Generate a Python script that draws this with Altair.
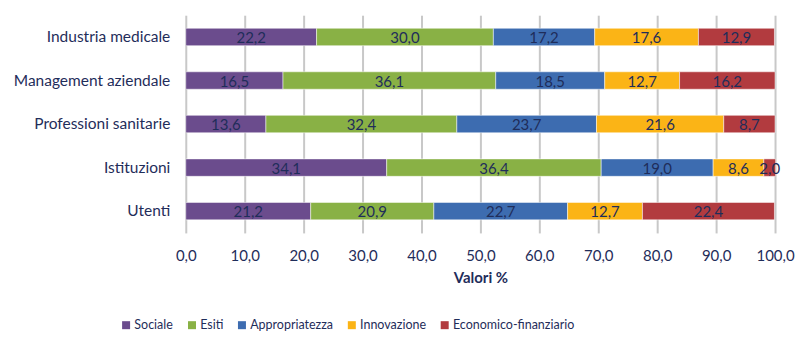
import altair as alt
import pandas as pd

categories = ["Industria medicale", "Management aziendale", "Professioni sanitarie", "Istituzioni", "Utenti"]
series = ["Sociale", "Esiti", "Appropriatezza", "Innovazione", "Economico-finanziario"]
colors = ["#6B4C8D", "#89B145", "#3D6CB0", "#FBB416", "#B23B3F"]

sociale = [22.2, 16.5, 13.6, 34.1, 21.2]
esiti = [30.0, 36.1, 32.4, 36.4, 20.9]
appropriatezza = [17.2, 18.5, 23.7, 19.0, 22.7]
innovazione = [17.6, 12.7, 21.6, 8.6, 12.7]
economico = [12.9, 16.2, 8.7, 2.0, 22.4]

values = [sociale, esiti, appropriatezza, innovazione, economico]
rows = []
for si, (s, vals) in enumerate(zip(series, values)):
    for c, v in zip(categories, vals):
        rows.append({"cat": c, "serie": s, "ord": si, "val": v})
df = pd.DataFrame(rows)

FONT = "Lato"
TXT = "#1F2D5A"

base = alt.Chart(df).transform_stack(
    stack="val", groupby=["cat"], as_=["x0", "x1"], sort=[alt.SortField("ord", order="ascending")]
).transform_calculate(
    mid="(datum.x0 + datum.x1) / 2",
    lab="replace(format(datum.val, '.1f'), '.', ',')",
)

ysc = alt.Y("cat:N", sort=categories, title=None,
            scale=alt.Scale(paddingInner=0.6, paddingOuter=0.3),
            axis=alt.Axis(labelFont=FONT, labelFontSize=15.5, labelColor=TXT, labelPadding=16,
                          ticks=False, domain=False, grid=False))

bars = base.mark_bar(stroke="white", strokeWidth=0.5).encode(
    x=alt.X("x0:Q", title="Valori %",
            scale=alt.Scale(domain=[0, 100], nice=False),
            axis=alt.Axis(values=list(range(0, 101, 10)),
                          labelExpr="replace(format(datum.value, '.1f'), '.', ',')",
                          labelFont=FONT, labelFontSize=15, labelColor=TXT, labelPadding=16,
                          labelFlush=False, labelOverlap=False,
                          ticks=False, domain=False, grid=True, gridColor="#C8C8C8", gridWidth=2,
                          titleFont=FONT, titleFontSize=15, titleColor=TXT, titleFontWeight="bold",
                          titlePadding=7)),
    x2="x1:Q",
    y=ysc,
    color=alt.Color("serie:N", sort=series, scale=alt.Scale(domain=series, range=colors),
                    legend=alt.Legend(title=None, orient="none", direction="horizontal",
                                      legendX=-66, legendY=304, symbolType="square", symbolSize=64,
                                      symbolStrokeWidth=0, labelFont=FONT, labelFontSize=12.5,
                                      labelColor=TXT, columnPadding=12, labelOffset=2)),
    order=alt.Order("ord:Q"),
)

texts = base.mark_text(font=FONT, fontSize=15, color=TXT, baseline="middle", dy=1).encode(
    x=alt.X("mid:Q"),
    y=alt.Y("cat:N", sort=categories),
    text="lab:N",
)

chart = alt.layer(bars, texts).properties(
    width=590, height=218,
    autosize=alt.AutoSizeParams(type="none"),
    padding={"left": 178, "top": 7, "right": 20, "bottom": 110},
).configure_view(stroke=None)

chart.save("out.html", embed_options={"renderer": "svg", "actions": False})
